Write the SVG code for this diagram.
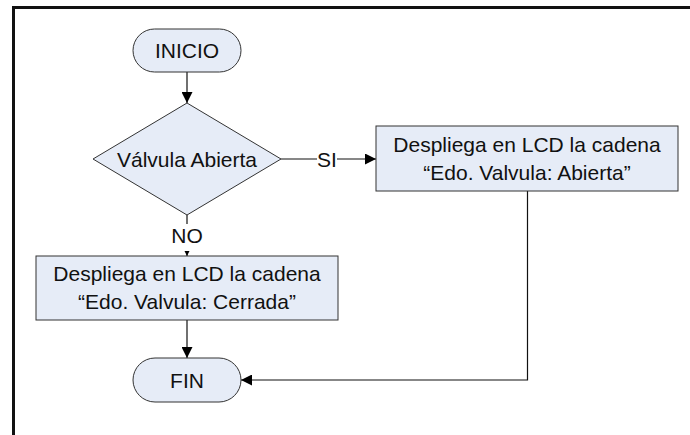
<svg xmlns="http://www.w3.org/2000/svg" width="690" height="435" viewBox="0 0 690 435">
<style>
.shape{fill:#E6ECF7;stroke:#333333;stroke-width:1}
.t{font-family:"Liberation Sans",Arial,sans-serif;font-size:21px;fill:#111111;text-anchor:middle}
.c{fill:none;stroke:#111111;stroke-width:1.2}
.lbl{fill:#ffffff}
</style>
<defs>
<marker id="ah" markerWidth="11" markerHeight="11" refX="11" refY="5.5" orient="auto" markerUnits="userSpaceOnUse">
<path d="M0,0 L11,5.5 L0,11 Z" fill="#000000"/>
</marker>
</defs>
<rect x="0" y="0" width="690" height="435" fill="#ffffff"/>
<path d="M13.5,435 L13.5,7.5 L690,7.5" fill="none" stroke="#111111" stroke-width="3"/>
<g id="connectors">
<path class="c" d="M187,72 L187,103" marker-end="url(#ah)"/>
<path class="c" d="M281,159 L376,159" marker-end="url(#ah)"/>
<path class="c" d="M187,215 L187,256" marker-end="url(#ah)"/>
<path class="c" d="M187,320 L187,358" marker-end="url(#ah)"/>
<path class="c" d="M527.5,191 L527.5,380 L241,380" marker-end="url(#ah)"/>
<rect class="lbl" x="317" y="148" width="20" height="22"/>
<text class="t" x="327" y="166.5">SI</text>
<rect class="lbl" x="172" y="224" width="30" height="27"/>
<text class="t" x="187" y="243">NO</text>
</g>
<g id="inicio">
<rect class="shape" x="133" y="29" width="108" height="43" rx="21.5" ry="21.5"/>
<text class="t" x="187" y="58">INICIO</text>
</g>
<g id="decision">
<polygon class="shape" points="187,103 281,159 187,215 93,159"/>
<text class="t" x="187" y="166.5">Válvula Abierta</text>
</g>
<g id="abierta">
<rect class="shape" x="376" y="126" width="302" height="65"/>
<text class="t" x="527" y="152">Despliega en LCD la cadena</text>
<text class="t" x="527" y="180">“Edo. Valvula: Abierta”</text>
</g>
<g id="cerrada">
<rect class="shape" x="36" y="256" width="302" height="64"/>
<text class="t" x="187" y="281">Despliega en LCD la cadena</text>
<text class="t" x="187" y="309">“Edo. Valvula: Cerrada”</text>
</g>
<g id="fin">
<rect class="shape" x="133" y="358" width="108" height="44" rx="22" ry="22"/>
<text class="t" x="187" y="387.5">FIN</text>
</g>
</svg>
